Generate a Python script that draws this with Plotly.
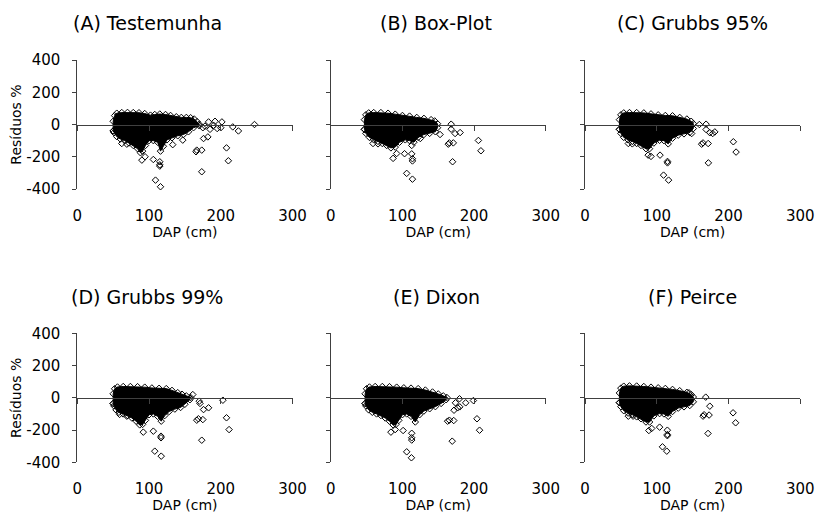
import plotly.graph_objects as go

# ---- data -------------------------------------------------------------
panel_titles = ["(A) Testemunha", "(B) Box-Plot", "(C) Grubbs 95%",
                "(D) Grubbs 99%", "(E) Dixon", "(F) Peirce"]

x_tick_vals = [0, 100, 200, 300]
x_tick_text = ["0", "100", "200", "300"]
y_tick_vals = [-400, -200, 0, 200, 400]
y_tick_text = ["-400", "-200", "0", "200", "400"]

# Outline of the dense residual cloud (DAP, residual %): top edge left->right,
# then bottom edge right->left.
a_hull_dap = [50, 50, 52, 55, 62, 70, 78, 86, 94, 102, 108, 115, 123, 130, 138, 145, 152, 158, 163, 167, 170,
              170, 162, 155, 148, 140, 132, 125, 120, 116, 112, 106, 100, 95, 91, 88, 84, 78, 72, 66, 60, 55, 51]
a_hull_res = [-40, 20, 55, 70, 74, 75, 74, 73, 68, 58, 62, 65, 62, 56, 48, 44, 44, 42, 34, 18, 2,
              -8, -20, -45, -62, -70, -82, -95, -135, -165, -110, -100, -100, -130, -165, -175, -150, -130, -115, -100, -90, -75, -50]

b_hull_dap = [47, 47, 49, 53, 60, 70, 80, 90, 100, 110, 120, 130, 140, 145, 149,
              149, 146, 138, 130, 122, 116, 110, 104, 96, 90, 84, 78, 72, 66, 60, 54, 49]
b_hull_res = [-30, 30, 60, 72, 74, 74, 70, 64, 56, 52, 44, 38, 30, 22, 5,
              -20, -45, -55, -62, -80, -110, -100, -95, -110, -140, -145, -130, -118, -105, -95, -80, -55]

c_hull_dap = [48, 48, 50, 54, 62, 72, 82, 92, 102, 112, 122, 132, 142, 148, 151,
              151, 146, 138, 130, 122, 116, 110, 104, 96, 90, 85, 78, 72, 66, 60, 54, 50]
c_hull_res = [-30, 30, 60, 72, 74, 74, 72, 66, 60, 56, 54, 44, 34, 20, 5,
              -25, -50, -58, -66, -85, -120, -100, -98, -115, -150, -150, -130, -118, -105, -95, -80, -55]

d_hull_dap = [50, 50, 52, 56, 64, 74, 84, 94, 104, 114, 124, 132, 140, 146, 152, 158,
              157, 150, 144, 136, 128, 122, 117, 112, 106, 100, 95, 91, 87, 82, 76, 70, 64, 58, 54, 51]
d_hull_res = [-35, 25, 56, 67, 70, 70, 69, 66, 61, 59, 57, 46, 32, 22, 12, 2,
              -12, -40, -60, -70, -85, -110, -145, -115, -100, -105, -140, -165, -168, -145, -125, -110, -100, -90, -75, -50]

e_hull_dap = [48, 48, 50, 54, 62, 72, 82, 92, 102, 112, 122, 132, 142, 150, 157, 162,
              161, 154, 146, 138, 130, 124, 118, 112, 106, 100, 95, 91, 87, 82, 76, 70, 64, 58, 53, 49]
e_hull_res = [-35, 25, 56, 67, 70, 70, 69, 66, 62, 60, 57, 48, 36, 24, 12, 2,
              -12, -35, -55, -68, -82, -105, -150, -115, -100, -105, -140, -165, -168, -145, -125, -110, -100, -90, -75, -50]

f_hull_dap = [48, 48, 50, 54, 62, 72, 82, 92, 102, 112, 122, 132, 142, 148, 151,
              151, 146, 138, 130, 122, 116, 110, 104, 96, 90, 85, 78, 72, 66, 60, 54, 50]
f_hull_res = [-30, 30, 60, 72, 74, 73, 70, 66, 62, 58, 52, 44, 34, 20, 5,
              -25, -48, -56, -64, -85, -115, -100, -98, -112, -150, -150, -130, -118, -105, -95, -80, -55]

# Isolated residuals outside the cloud (DAP, residual %)
a_pts_dap = [62, 69, 90, 94.5, 106, 115, 115, 115, 109, 116,
             183, 192, 201.6, 216.7, 224.6, 247, 176, 182, 166.5, 173.5, 165.5, 208, 210.6, 173.5,
             147, 133, 175, 185, 178, 195, 200, 190]
a_pts_res = [-118, -122, -221, -200, -217, -231, -250, -258, -345, -386,
             16, 20, 16, -15, -40, 0, -87, -77, -159, -159, -169, -145, -225, -293,
             -97, -125, -20, -30, -10, -25, -20, -5]

b_pts_dap = [59, 66, 87, 92, 103, 113, 113, 114, 114, 106, 114,
             152.5, 168, 168, 173.5, 180.5, 164, 165.5, 171, 170, 206, 209.5, 125]
b_pts_res = [-118, -120, -210, -180, -181, -130, -182, -212, -226, -303, -339,
             -62, 2, -29, -56, -50, -122, -114, -114, -231, -99, -163, -87]

c_pts_dap = [60.4, 66, 88, 92, 104.6, 115, 115, 109.5, 116.5,
             159.4, 168.8, 168.8, 174, 178, 181, 162.6, 164.5, 171.7, 172, 206.8, 210.6, 148.7]
c_pts_res = [-118, -120, -190, -198, -190, -229, -238, -314, -345,
             0, 2, -31, -51, -56, -46, -122, -114, -118, -238, -107, -171, -56]

d_pts_dap = [59, 69, 92, 106, 116.7, 116.7, 108, 117,
             161, 170, 171, 176, 183, 203, 166.5, 168.8, 175, 173.5, 208, 211.6]
d_pts_res = [-103, -114, -213, -207, -238, -248, -331, -362,
             20, -21, -35, -73, -62, -15, -139, -130, -135, -263, -124, -197]

e_pts_dap = [174, 179.6, 177, 180, 172, 188.3, 199, 163, 165.5, 171.6, 169.5, 204, 207.6,
             84, 90, 101, 113, 113, 113, 106, 112.6]
e_pts_res = [-31, -6, -62, -56, -77, -31, -17, -145, -139, -141, -269, -130, -201,
             -213, -197, -203, -220, -248, -262, -335, -372]

f_pts_dap = [145, 168.3, 174, 164.6, 166, 173, 171.5, 206.4, 210,
             60.4, 67, 89, 93, 104, 114.8, 114.8, 114.8, 108, 114]
f_pts_res = [31, 4, -52, -114, -105, -107, -221, -93, -155,
             -114, -114, -203, -190, -182, -201, -228, -235, -304, -331]

hulls = [(a_hull_dap, a_hull_res), (b_hull_dap, b_hull_res), (c_hull_dap, c_hull_res),
         (d_hull_dap, d_hull_res), (e_hull_dap, e_hull_res), (f_hull_dap, f_hull_res)]
points = [(a_pts_dap, a_pts_res), (b_pts_dap, b_pts_res), (c_pts_dap, c_pts_res),
          (d_pts_dap, d_pts_res), (e_pts_dap, e_pts_res), (f_pts_dap, f_pts_res)]

# ---- layout geometry (pixels in an 818 x 513 canvas) ------------------
W, H = 818, 513
col_px = [(77.3, 292.5), (330.7, 545.8), (585.0, 800.2)]
row_px = [(60.0, 189.0), (333.3, 462.3)]      # top (400) / bottom (-400)
title_cx = [147, 436, 692]
title_cy = [23.3, 296.7]

FONT = "DejaVu Sans"
AXIS_COLOR = "#404040"

fig = go.Figure()
layout = dict(
    autosize=True,
    margin=dict(l=0, r=0, t=0, b=0, autoexpand=False),
    paper_bgcolor="white", plot_bgcolor="white",
    showlegend=False,
    font=dict(family=FONT, color="black", size=15),
    annotations=[],
)

marker = dict(symbol="diamond-open", size=5, color="black", line=dict(width=1, color="black"))

for i in range(6):
    r, c = divmod(i, 3)
    n = "" if i == 0 else str(i + 1)
    xa, ya = "x" + n, "y" + n
    hx, hy = hulls[i]
    px_, py_ = points[i]

    # dense cloud
    fig.add_trace(go.Scatter(
        x=hx + [hx[0]], y=hy + [hy[0]], xaxis=xa, yaxis=ya,
        mode="lines+markers", fill="toself", fillcolor="black",
        line=dict(color="black", width=1), marker=marker,
        hoverinfo="skip", cliponaxis=False))
    # isolated residuals
    fig.add_trace(go.Scatter(
        x=px_, y=py_, xaxis=xa, yaxis=ya, mode="markers",
        marker=marker, cliponaxis=False))

    x0, x1 = col_px[c]
    ytop, ybot = row_px[r]
    yzero = (ytop + ybot) / 2

    layout["xaxis" + n] = dict(
        domain=[x0 / W, x1 / W], range=[0, 300],
        tickmode="array", tickvals=x_tick_vals, ticktext=x_tick_text,
        showgrid=False, zeroline=False,
        showline=True, linecolor=AXIS_COLOR, linewidth=1,
        ticks="outside", ticklen=5, tickwidth=1, tickcolor=AXIS_COLOR,
        anchor="free", position=1 - yzero / H,
        ticklabelstandoff=72,
        tickfont=dict(size=15),
        title=dict(text="DAP (cm)", font=dict(size=14), standoff=1),
        fixedrange=True,
    )
    layout["yaxis" + n] = dict(
        domain=[1 - ybot / H, 1 - ytop / H], range=[-400, 400],
        tickmode="array", tickvals=y_tick_vals, ticktext=y_tick_text,
        showgrid=False, zeroline=False,
        showline=True, linecolor=AXIS_COLOR, linewidth=1,
        ticks="outside", ticklen=4, tickwidth=1, tickcolor=AXIS_COLOR,
        showticklabels=(c == 0), ticklabelstandoff=9,
        tickfont=dict(size=15),
        anchor=xa,
        title=dict(text="Resíduos %" if c == 0 else "", font=dict(size=14), standoff=1),
        fixedrange=True,
    )
    layout["annotations"].append(dict(
        text=panel_titles[i], xref="paper", yref="paper",
        x=title_cx[c] / W, y=1 - title_cy[r] / H,
        xanchor="center", yanchor="middle", showarrow=False,
        font=dict(size=19, family=FONT, color="black")))

fig.update_layout(**layout)
# pin the graph div to the top-left corner of the page at 818 x 513
fig.write_html("out.html",
               default_width=f"{W}px;position:fixed;top:0;left:0",
               default_height=f"{H}px")
